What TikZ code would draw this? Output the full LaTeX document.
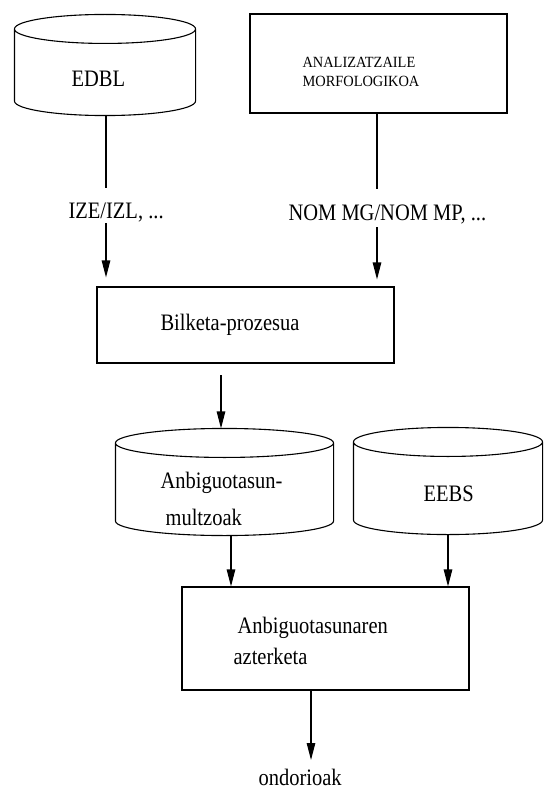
\documentclass[tikz,border=0pt]{standalone}
\usepackage{fontspec}
\setmainfont{Liberation Serif}
\usepackage{graphicx}
\usetikzlibrary{arrows.meta,calc}

% text is set slightly taller than wide
\newcommand{\tallt}[1]{\scalebox{1}[1.15]{#1}}
\newcommand{\talls}[1]{\scalebox{1}[1.08]{#1}}

% database drum drawn around an (invisible) node
\newcommand{\drum}[1]{%
  \draw let \p1=(#1.north west), \p2=(#1.south east), \n1={(\x2-\x1)/2} in
    (\x1,\y1-14.5pt) -- (\x1,\y2+14.5pt)
    arc[start angle=180,end angle=360,x radius=\n1,y radius=14.5pt]
    -- (\x2,\y1-14.5pt)
    arc[start angle=0,end angle=180,x radius=\n1,y radius=14.5pt]
    arc[start angle=180,end angle=360,x radius=\n1,y radius=14.5pt];}

\begin{document}
\begin{tikzpicture}[x=1pt,y=-1pt,line width=1.1pt,
  frame/.style={draw,rectangle,inner sep=0pt},
  region/.style={rectangle,inner sep=0pt},
  lbl/.style={inner sep=0pt,anchor=base west,font=\fontsize{20.5}{24}\selectfont},
  smalllbl/.style={inner sep=0pt,anchor=base west,font=\fontsize{14.4}{17}\selectfont},
  flow/.style={-{Triangle[length=17pt,width=8.5pt]}}]

\useasboundingbox (0,0) rectangle (544,789);

% shapes
\node[region,minimum width=180pt,minimum height=100pt] (edbl) at (105,65) {};
\drum{edbl}
\node[frame,minimum width=257pt,minimum height=99pt] (analiz) at (378.5,63.5) {};
\node[frame,minimum width=297pt,minimum height=76pt] (bilketa) at (245.5,325) {};
\node[region,minimum width=217pt,minimum height=106pt] (anbig) at (224.5,482) {};
\drum{anbig}
\node[region,minimum width=188pt,minimum height=106pt] (eebs) at (448,481) {};
\drum{eebs}
\node[frame,minimum width=287pt,minimum height=103pt] (azter) at (325.5,638.5) {};

% texts
\node[lbl] (tEdbl) at (71,87) {\tallt{EDBL}};
\node[smalllbl] (tAnal1) at (302,68) {\talls{ANALIZATZAILE}};
\node[smalllbl] (tAnal2) at (302,87) {\talls{MORFOLOGIKOA}};
\node[lbl] (tIze) at (68,218) {\tallt{IZE/IZL, ...}};
\node[lbl] (tNom) at (288,220) {\tallt{NOM MG/NOM MP, ...}};
\node[lbl] (tBilketa) at (160,330) {\tallt{Bilketa-prozesua}};
\node[lbl] (tAnb1) at (160,488) {\tallt{Anbiguotasun-}};
\node[lbl] (tAnb2) at (165,525) {\tallt{multzoak}};
\node[lbl] (tEebs) at (423,501) {\tallt{EEBS}};
\node[lbl] (tAzt1) at (237,633) {\tallt{Anbiguotasunaren}};
\node[lbl] (tAzt2) at (233,664) {\tallt{azterketa}};
\node[lbl] (tOnd) at (258,785) {\tallt{ondorioak}};

% connectors
\coordinate (edblEnd) at (106,188);
\draw (edbl.south -| edblEnd) -- (edblEnd);
\coordinate (izeOut) at (106,223);
\draw[flow,shorten >=9pt] (izeOut) -- (izeOut |- bilketa.north);

\coordinate (analEnd) at (377,189);
\draw (analiz.south -| analEnd) -- (analEnd);
\coordinate (nomOut) at (377,227);
\draw[flow,shorten >=7pt] (nomOut) -- (nomOut |- bilketa.north);

\coordinate (bilOut) at (221,375);
\draw[flow] (bilOut) -- (bilOut |- anbig.north);

\coordinate (anbX) at (231,0);
\draw[flow] (anbig.south -| anbX) -- (azter.north -| anbX);
\coordinate (eebsX) at (448,0);
\draw[flow] (eebs.south -| eebsX) -- (azter.north -| eebsX);

\coordinate (ondTip) at (311,760);
\draw[flow] (azter.south -| ondTip) -- (ondTip);
\end{tikzpicture}
\end{document}
